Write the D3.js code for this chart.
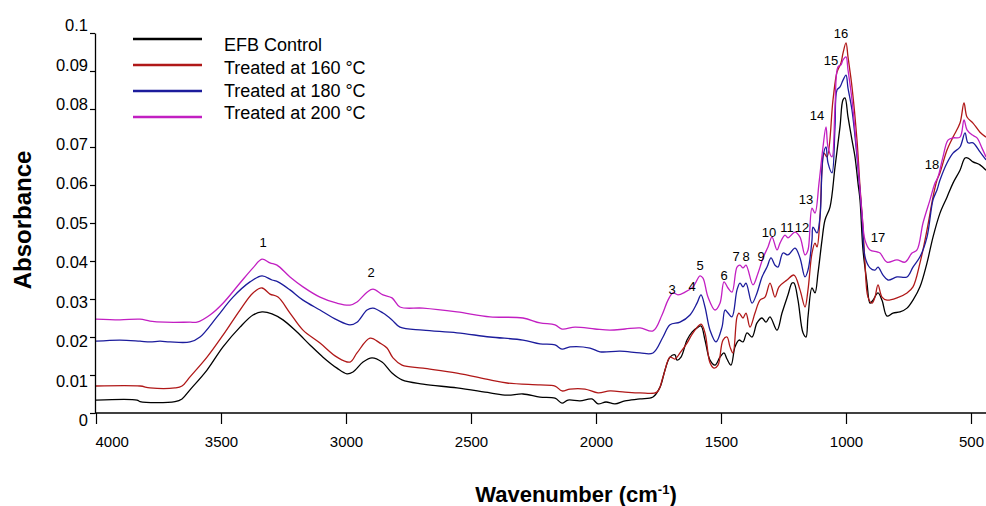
<!DOCTYPE html>
<html>
<head>
<meta charset="utf-8">
<script src="https://cdn.jsdelivr.net/npm/d3@7"></script>
<style>
  html, body { margin: 0; padding: 0; background: #fff; }
  svg { display: block; font-family: "Liberation Sans", Arial, sans-serif; }
</style>
</head>
<body>
<svg id="chart" width="986" height="506"></svg>
<script>
// FTIR spectra of EFB samples: wavenumber (cm-1) vs absorbance
const seriesNames = ["EFB Control", "Treated at 160 °C", "Treated at 180 °C", "Treated at 200 °C"];
const seriesColors = ["#000000", "#b01818", "#1c1c9c", "#c21fc2"];

const controlWn = [4000,3836,3824,3684,3656,3624,3556,3492,3424,3372,3336,3296,3252,3196,3144,3092,3036,2996,2972,2932,2896,2856,2816,2776,2692,2556,2424,2356,2292,2224,2164,2136,2112,2064,2016,1992,1960,1924,1884,1824,1772,1744,1724,1704,1684,1676,1660,1636,1616,1596,1580,1564,1544,1524,1504,1488,1476,1460,1444,1428,1412,1396,1376,1356,1336,1320,1304,1276,1256,1232,1216,1208,1192,1172,1160,1152,1136,1124,1112,1096,1084,1064,1044,1024,1012,1004,992,976,964,952,944,932,916,904,892,872,856,836,812,784,756,732,704,676,652,624,596,572,544,524,512,492,464,440];
const controlAbs = [0.0034,0.0034,0.0030,0.0030,0.0037,0.0061,0.0113,0.0174,0.0226,0.0258,0.0266,0.0261,0.0245,0.0213,0.0179,0.0147,0.0118,0.0103,0.0108,0.0134,0.0145,0.0134,0.0105,0.0087,0.0076,0.0066,0.0053,0.0047,0.0050,0.0042,0.0039,0.0026,0.0034,0.0032,0.0037,0.0024,0.0029,0.0024,0.0032,0.0037,0.0042,0.0068,0.0113,0.0147,0.0153,0.0139,0.0147,0.0192,0.0213,0.0224,0.0229,0.0192,0.0139,0.0126,0.0147,0.0158,0.0142,0.0126,0.0174,0.0192,0.0187,0.0211,0.0200,0.0237,0.0250,0.0239,0.0253,0.0218,0.0263,0.0311,0.0342,0.0342,0.0297,0.0211,0.0200,0.0253,0.0329,0.0316,0.0368,0.0455,0.0508,0.0542,0.0647,0.0753,0.0824,0.0829,0.0779,0.0718,0.0674,0.0605,0.0561,0.0429,0.0342,0.0289,0.0297,0.0316,0.0297,0.0255,0.0263,0.0266,0.0276,0.0297,0.0332,0.0395,0.0463,0.0526,0.0568,0.0605,0.0639,0.0671,0.0671,0.0661,0.0653,0.0639];

const t160Wn = [4000,3824,3784,3684,3656,3624,3556,3492,3424,3372,3336,3304,3272,3224,3172,3104,3036,2984,2956,2904,2864,2836,2812,2776,2692,2556,2424,2356,2224,2164,2136,2104,2044,1992,1944,1884,1824,1756,1732,1704,1684,1664,1636,1612,1580,1564,1544,1528,1512,1492,1476,1464,1452,1436,1428,1412,1400,1384,1364,1344,1324,1304,1284,1268,1236,1208,1184,1164,1152,1136,1124,1116,1104,1096,1088,1076,1052,1036,1020,1012,1000,992,976,956,944,932,924,912,896,884,872,856,836,796,756,732,704,676,652,636,624,596,572,544,528,516,492,464,440];
const t160Abs = [0.0071,0.0071,0.0066,0.0066,0.0071,0.0095,0.0147,0.0205,0.0271,0.0316,0.0329,0.0313,0.0305,0.0263,0.0218,0.0184,0.0147,0.0134,0.0158,0.0197,0.0184,0.0171,0.0145,0.0126,0.0118,0.0105,0.0087,0.0079,0.0074,0.0071,0.0058,0.0063,0.0063,0.0053,0.0058,0.0055,0.0053,0.0055,0.0095,0.0147,0.0142,0.0158,0.0184,0.0211,0.0234,0.0211,0.0132,0.0118,0.0126,0.0192,0.0200,0.0174,0.0158,0.0253,0.0263,0.0250,0.0263,0.0226,0.0263,0.0297,0.0305,0.0342,0.0305,0.0332,0.0350,0.0363,0.0324,0.0279,0.0324,0.0421,0.0447,0.0437,0.0516,0.0639,0.0684,0.0674,0.0824,0.0897,0.0921,0.0947,0.0974,0.0937,0.0858,0.0718,0.0595,0.0489,0.0395,0.0305,0.0289,0.0305,0.0337,0.0305,0.0297,0.0303,0.0316,0.0332,0.0395,0.0482,0.0568,0.0613,0.0632,0.0692,0.0726,0.0763,0.0816,0.0779,0.0763,0.0739,0.0726];

const t180Wn = [4000,3904,3824,3784,3744,3704,3624,3584,3516,3452,3384,3336,3296,3272,3224,3172,3104,3036,2984,2956,2916,2892,2852,2816,2784,2692,2556,2424,2292,2224,2164,2136,2104,2024,1984,1904,1824,1772,1732,1704,1664,1624,1596,1580,1564,1544,1520,1496,1484,1472,1456,1436,1424,1412,1400,1376,1356,1336,1316,1300,1284,1272,1252,1232,1204,1184,1164,1152,1136,1132,1116,1104,1092,1080,1072,1056,1044,1036,1024,1012,1000,992,976,956,936,924,904,884,872,852,832,796,756,732,704,676,652,636,624,596,572,544,524,512,492,464,440];
const t180Abs = [0.0189,0.0192,0.0189,0.0187,0.0189,0.0187,0.0187,0.0200,0.0253,0.0305,0.0345,0.0361,0.0350,0.0345,0.0324,0.0297,0.0271,0.0245,0.0232,0.0239,0.0271,0.0276,0.0263,0.0245,0.0226,0.0218,0.0211,0.0200,0.0192,0.0182,0.0179,0.0168,0.0174,0.0171,0.0161,0.0163,0.0158,0.0158,0.0200,0.0232,0.0239,0.0258,0.0289,0.0311,0.0279,0.0218,0.0187,0.0226,0.0271,0.0263,0.0253,0.0324,0.0342,0.0332,0.0342,0.0289,0.0316,0.0358,0.0384,0.0408,0.0389,0.0384,0.0421,0.0416,0.0434,0.0408,0.0358,0.0376,0.0455,0.0489,0.0474,0.0516,0.0674,0.0700,0.0658,0.0632,0.0753,0.0850,0.0858,0.0876,0.0889,0.0855,0.0797,0.0674,0.0516,0.0411,0.0382,0.0376,0.0384,0.0363,0.0350,0.0358,0.0358,0.0384,0.0411,0.0463,0.0561,0.0587,0.0613,0.0658,0.0684,0.0700,0.0737,0.0711,0.0711,0.0687,0.0666];

const t200Wn = [4000,3904,3824,3784,3724,3624,3596,3544,3492,3424,3372,3336,3304,3276,3224,3172,3104,3036,2984,2956,2916,2892,2852,2816,2784,2692,2556,2424,2292,2224,2164,2136,2084,2004,1944,1884,1824,1772,1736,1712,1692,1672,1644,1612,1584,1572,1552,1524,1504,1488,1472,1456,1436,1424,1412,1400,1372,1352,1332,1312,1296,1276,1264,1244,1232,1204,1184,1164,1152,1136,1124,1108,1092,1080,1072,1056,1044,1032,1020,1012,1000,992,976,956,936,924,904,876,864,836,796,764,736,716,692,664,644,632,612,592,572,544,528,516,496,476,456,440];
const t200Abs = [0.0247,0.0245,0.0247,0.0242,0.0239,0.0239,0.0239,0.0258,0.0289,0.0342,0.0382,0.0405,0.0395,0.0389,0.0358,0.0332,0.0305,0.0289,0.0284,0.0292,0.0318,0.0326,0.0311,0.0303,0.0279,0.0276,0.0266,0.0253,0.0250,0.0237,0.0232,0.0221,0.0226,0.0221,0.0218,0.0221,0.0224,0.0216,0.0258,0.0297,0.0316,0.0311,0.0318,0.0332,0.0361,0.0355,0.0305,0.0271,0.0289,0.0345,0.0329,0.0318,0.0384,0.0389,0.0382,0.0389,0.0337,0.0368,0.0408,0.0437,0.0463,0.0429,0.0447,0.0468,0.0461,0.0476,0.0463,0.0416,0.0429,0.0539,0.0526,0.0605,0.0700,0.0753,0.0700,0.0674,0.0805,0.0911,0.0916,0.0929,0.0937,0.0903,0.0824,0.0684,0.0526,0.0455,0.0429,0.0424,0.0421,0.0397,0.0403,0.0397,0.0421,0.0429,0.0500,0.0561,0.0605,0.0621,0.0674,0.0718,0.0724,0.0726,0.0771,0.0745,0.0732,0.0724,0.0697,0.0674];

// Numbered band labels (wavenumber, absorbance of label centre)
const peakLabels = ["1","2","3","4","5","6","7","8","9","10","11","12","13","14","15","16","17","18"];
const peakWn = [3332,2900,1696,1616,1584,1488,1440,1400,1340,1308,1236,1176,1160,1116,1060,1020,872,656];
const peakAbs = [0.0450,0.0371,0.0326,0.0334,0.0389,0.0363,0.0411,0.0411,0.0411,0.0476,0.0489,0.0489,0.0561,0.0782,0.0929,0.1000,0.0463,0.0655];

const xTicks = [4000, 3500, 3000, 2500, 2000, 1500, 1000, 500];
const yTicks = [0, 0.01, 0.02, 0.03, 0.04, 0.05, 0.06, 0.07, 0.08, 0.09, 0.1];

const svg = d3.select("#chart");

const x = d3.scaleLinear().domain([4000, 440]).range([96, 986]);
const y = d3.scaleLinear().domain([0, 0.1]).range([413, 33]);
// tick captions sit on a slightly wider spacing than the tick marks
const yLab = d3.scaleLinear().domain([0, 0.1]).range([420, 25]);

const series = [
  { wn: controlWn, abs: controlAbs },
  { wn: t160Wn, abs: t160Abs },
  { wn: t180Wn, abs: t180Abs },
  { wn: t200Wn, abs: t200Abs }
].map((s, i) => ({
  name: seriesNames[i],
  color: seriesColors[i],
  points: s.wn.map((w, j) => [w, s.abs[j]])
}));

const line = d3.line()
  .x(d => x(d[0]))
  .y(d => y(d[1]))
  .curve(d3.curveCatmullRom.alpha(0.5));

const plot = svg.append("g");
plot.selectAll("path.spec")
  .data(series)
  .join("path")
  .attr("class", "spec")
  .attr("fill", "none")
  .attr("stroke", d => d.color)
  .attr("stroke-width", 1.3)
  .attr("stroke-linejoin", "round")
  .attr("d", d => line(d.points));

// Y axis
const yAxis = svg.append("g")
  .attr("transform", "translate(95,0)")
  .call(d3.axisLeft(y).tickValues(yTicks).tickSize(5).tickSizeOuter(0)
    .tickFormat(d => d3.format("~g")(d)));
yAxis.select(".domain").attr("stroke", "#000").attr("stroke-width", 1.3);
yAxis.selectAll(".tick line").attr("stroke", "#000").attr("stroke-width", 1.2);
yAxis.selectAll(".tick text")
  .attr("x", -7)
  .attr("y", d => yLab(d) - y(d))
  .attr("dy", "0.34em")
  .attr("fill", "#000")
  .style("font-size", "16.5px")
  .style("font-family", "'Liberation Sans', Arial, sans-serif");

// X axis
const xAxis = svg.append("g")
  .attr("transform", "translate(0,413)")
  .call(d3.axisBottom(x).tickValues(xTicks).tickSize(11).tickSizeOuter(0)
    .tickFormat(d3.format("d")));
xAxis.select(".domain").attr("stroke", "#000").attr("stroke-width", 1.5)
  .attr("d", `M95,0H986`);
xAxis.selectAll(".tick line").attr("stroke", "#000").attr("stroke-width", 1.2);
xAxis.selectAll(".tick text")
  .attr("y", 29)
  .attr("dy", "0.34em")
  .attr("fill", "#000")
  .attr("text-anchor", d => d === 4000 ? "start" : "middle")
  .attr("x", d => d === 4000 ? -1 : 0)
  .style("font-size", "15px")
  .style("font-family", "'Liberation Sans', Arial, sans-serif");

// Axis titles
svg.append("text")
  .attr("transform", "translate(31,220) rotate(-90)")
  .attr("text-anchor", "middle")
  .style("font-size", "24px")
  .style("font-weight", "bold")
  .text("Absorbance");

const xTitle = svg.append("text")
  .attr("x", 576)
  .attr("y", 502)
  .attr("text-anchor", "middle")
  .style("font-size", "22px")
  .style("font-weight", "bold");
xTitle.append("tspan").text("Wavenumber (cm");
xTitle.append("tspan").attr("dy", -8).style("font-size", "13px").text("-1");
xTitle.append("tspan").attr("dy", 8).text(")");

// Band numbers
svg.append("g").selectAll("text")
  .data(peakLabels)
  .join("text")
  .attr("x", (d, i) => x(peakWn[i]))
  .attr("y", (d, i) => y(peakAbs[i]))
  .attr("dy", "0.35em")
  .attr("text-anchor", "middle")
  .style("font-size", "13px")
  .text(d => d);

// Legend
const legend = svg.append("g");
const legLineY = d3.scaleLinear().domain([0, 3]).range([39, 117]);
const legTextY = d3.scaleLinear().domain([0, 3]).range([45, 113]);
series.forEach((s, i) => {
  legend.append("line")
    .attr("x1", 133).attr("x2", 202)
    .attr("y1", legLineY(i)).attr("y2", legLineY(i))
    .attr("stroke", s.color)
    .attr("stroke-width", 2.6);
  legend.append("text")
    .attr("x", 224)
    .attr("y", legTextY(i))
    .attr("dy", "0.35em")
    .style("font-size", "18px")
    .text(s.name);
});
</script>
</body>
</html>
